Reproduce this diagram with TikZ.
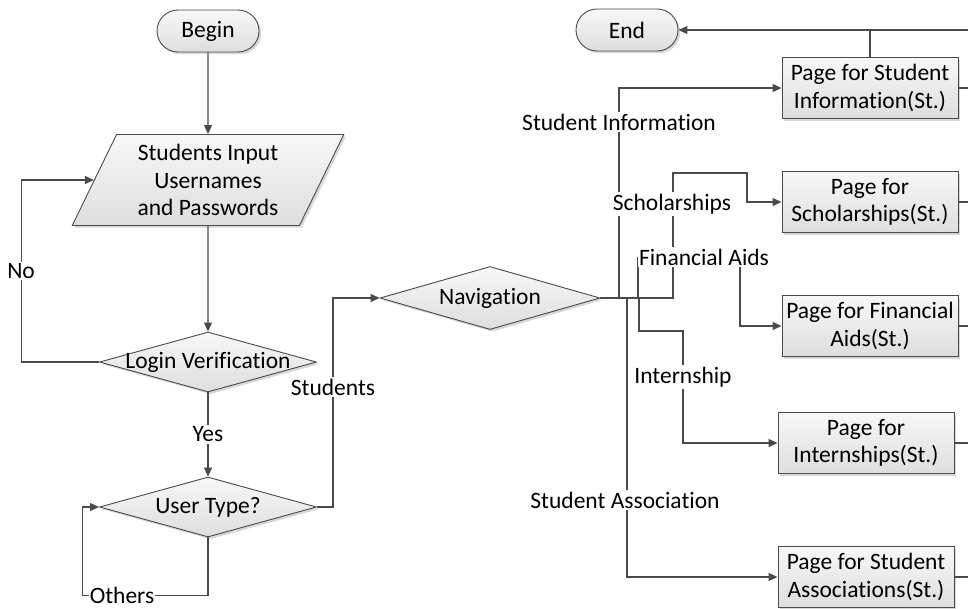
\documentclass[tikz,border=0pt]{standalone}
\usepackage{fontspec}
\setmainfont{Carlito}[Ligatures={NoCommon,NoContextual}]
\usetikzlibrary{shapes.geometric,arrows.meta,shadows}
\newcommand\diagfont{\fontsize{23.5}{27.5}\selectfont}
\definecolor{lc}{HTML}{4A4A4A}
\tikzset{
  conn/.style={draw=lc, line width=1.1pt},
  arr/.style={conn, -{Triangle[length=9pt,width=8pt]}},
  shapefill/.style={draw=lc, line width=0.9pt, top color=gray!6, bottom color=gray!26,
    drop shadow={shadow xshift=2.2pt, shadow yshift=-2.2pt, fill=gray!45, opacity=0.7}},
  term/.style={shapefill, rectangle, rounded corners=21pt, minimum width=102pt,
    minimum height=42pt, font=\diagfont},
  iobox/.style={shapefill, trapezium, trapezium left angle=64.5, trapezium right angle=115.5,
    trapezium stretches=true, minimum width=272pt, minimum height=91pt, inner sep=0pt,
    align=center, font=\diagfont},
  decide/.style={shapefill, diamond, inner sep=0pt, minimum width=217pt, minimum height=60pt},
  dtext/.style={font=\diagfont, inner sep=0pt},
  page/.style={shapefill, rectangle, minimum width=176pt, minimum height=61pt,
    inner sep=0pt, align=center, font=\diagfont},
  lbl/.style={fill=white, inner sep=1.5pt, font=\diagfont}
}
\begin{document}
\begin{tikzpicture}[x=1pt, y=-1pt]
\useasboundingbox (0,0) rectangle (968,608);

% left column: sign-in flow
\node[term] (begin) at (208,31) {Begin};
\node[iobox] (inp) at (208,180) {Students Input\\Usernames\\and Passwords};
\node[decide] (login) at (208,362) {};
\node[dtext] (logint) at (login.center) {Login Verification};
\node[decide] (utype) at (208,507) {};
\node[dtext] (utypet) at (utype.center) {User Type?};

% navigation and end
\node[decide, minimum width=220pt, minimum height=63pt] (nav) at (490,298) {};
\node[dtext] (navt) at (nav.center) {Navigation};
\node[term] (end) at (627,30) {End};

% pages
\node[page] (p1) at (870,88) {Page for Student\\Information(St.)};
\node[page] (p2) at (870,202) {Page for\\Scholarships(St.)};
\node[page] (p3) at (870,326) {Page for Financial\\Aids(St.)};
\node[page] (p4) at (866,443) {Page for\\Internships(St.)};
\node[page] (p5) at (866,577) {Page for Student\\Associations(St.)};

% return line running off the right edge
\coordinate (r0) at (968,30);
\coordinate (r1) at (968,88);
\coordinate (r2) at (968,202);
\coordinate (r3) at (968,326);
\coordinate (r4) at (968,443);
\coordinate (r5) at (968,577);

% sign-in connectors
\draw[arr] (begin.south) -- (inp.north);
\draw[arr] (inp.south) -- (login.north);
\draw[arr] (login.west) -- ++(-78,0) |- (inp.west)
  node[lbl, pos=0.25] (lno) {No};
\draw[arr] (login.south) -- (utype.north)
  node[lbl, midway] (lyes) {Yes};
\draw[arr] (utype.south) -- ++(0,58) -| ([xshift=-17pt]utype.west) -- (utype.west);
\node[lbl, inner sep=0.5pt] (loth) at (122,595) {Others};
\draw[arr] (utype.east) -- ++(16,0) |- (nav.west);
\node[lbl] (lstu) at (333,387) {Students};

% navigation branches
\draw[arr] (nav.east) -- (619,298) |- (p1.west);
\node[lbl] (lsi) at (619,122) {Student Information};
\draw[arr] (nav.east) -- (673,298) -- (673,173) -- (747,173) |- (p2.west);
\node[lbl] (lsch) at (672,204) {Scholarships};
\draw[arr] (nav.east) -- (638,298) -- (638,258) -- (740,258) |- (p3.west);
\node[lbl] (lfa) at (704,257) {Financial Aids};
\draw[arr] (nav.east) -- (639,298) -- (639,331) -- (683,331) |- (p4.west);
\node[lbl] (lint) at (683,377) {Internship};
\draw[arr] (nav.east) -- (627,298) |- (p5.west);
\node[lbl] (lsa) at (625,500) {Student Association};

% pages back to the end
\draw[arr] (r0) -- (end.east);
\draw[conn] (p1.north) -- (p1.north |- r0);
\draw[conn] (p1.east) -- (r1);
\draw[conn] (p2.east) -- (r2);
\draw[conn] (p3.east) -- (r3);
\draw[conn] (p4.east) -- (r4);
\draw[conn] (p5.east) -- (r5);
\end{tikzpicture}
\end{document}
